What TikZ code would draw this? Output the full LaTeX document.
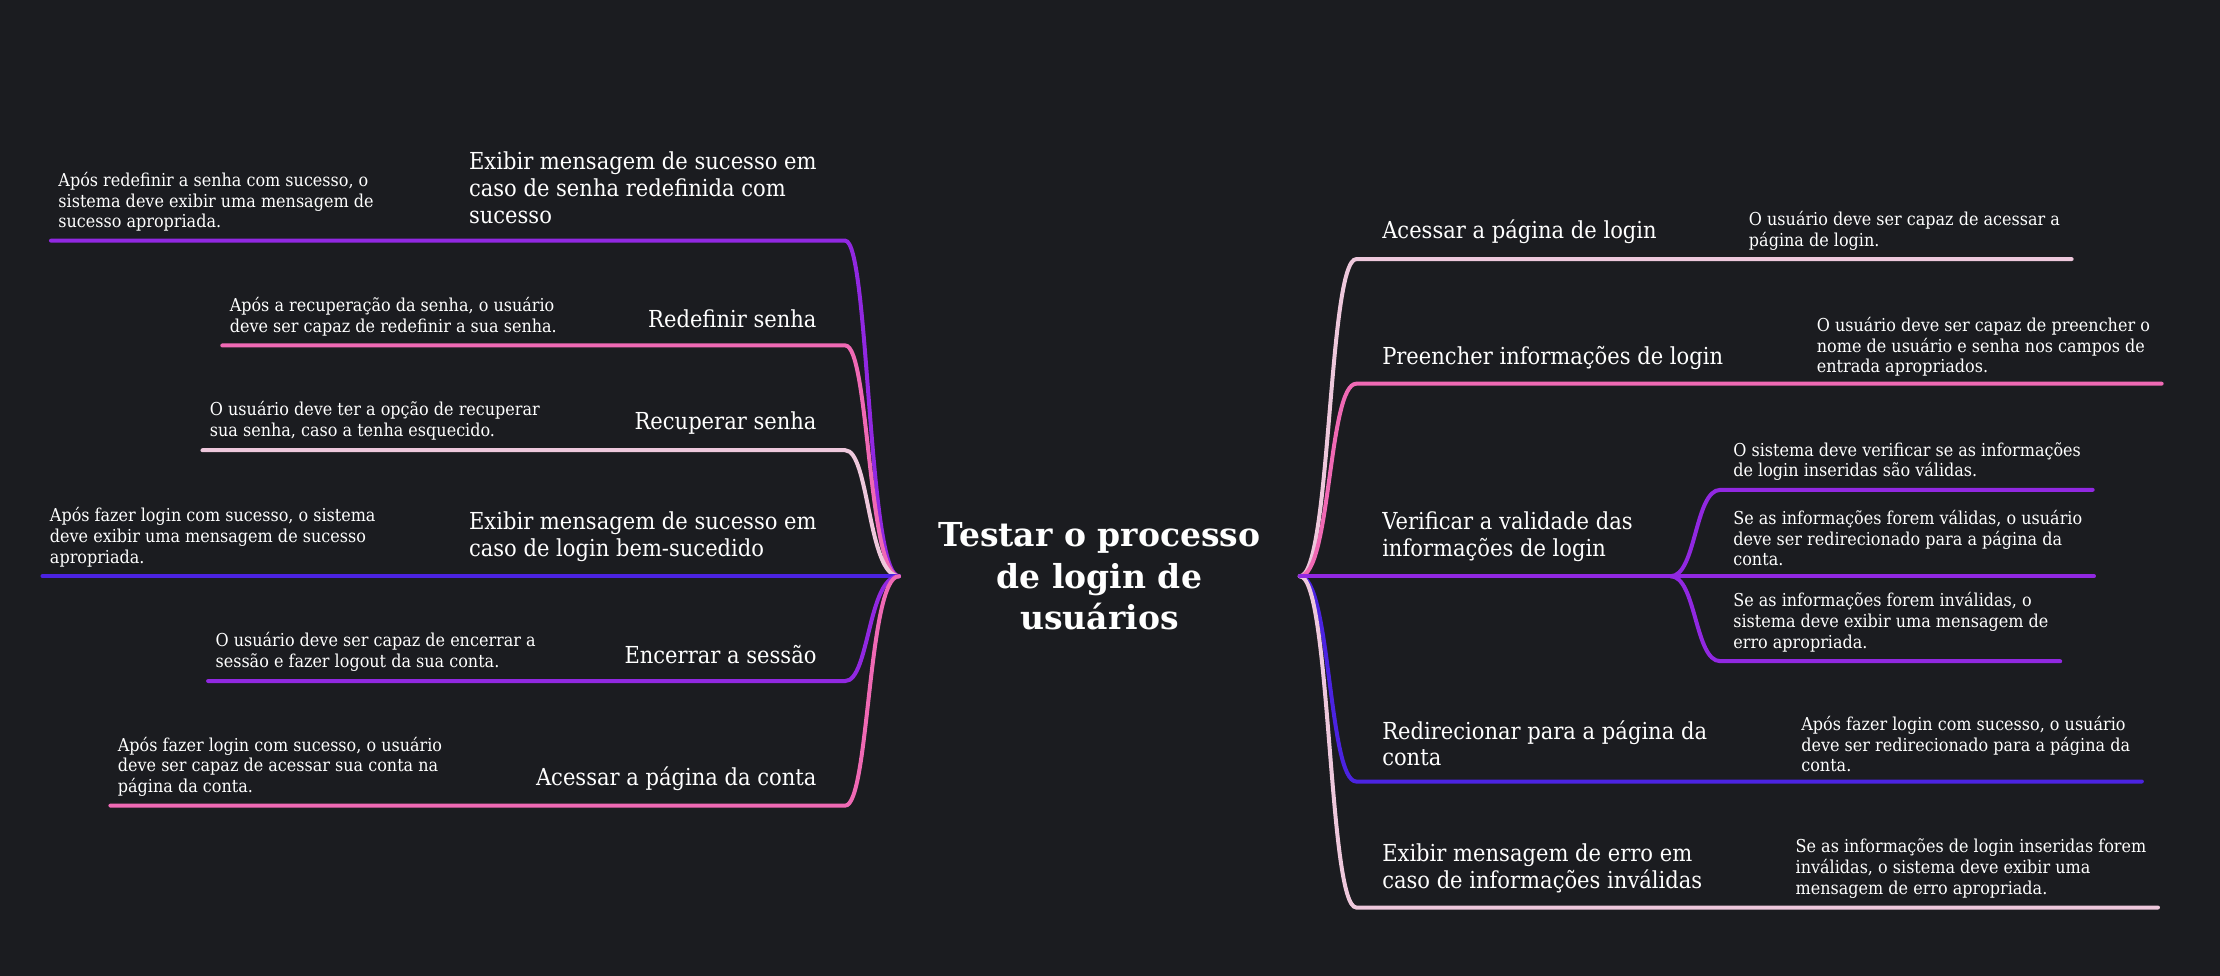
\documentclass[tikz,border=0pt]{standalone}
\usepackage{fontspec}
\setmainfont{DejaVu Serif}[FakeStretch=0.9]
\newfontfamily\headfont{DejaVu Serif}
\usetikzlibrary{calc}
\definecolor{canvas}{RGB}{27,28,32}
\definecolor{violetline}{RGB}{145,40,225}
\definecolor{pinkline}{RGB}{240,105,180}
\definecolor{blushline}{RGB}{238,200,220}
\definecolor{indigoline}{RGB}{75,35,225}
\newcommand{\rootfont}{\headfont\bfseries\fontsize{16.5}{20.9}\selectfont}
\newcommand{\topicfont}{\fontsize{11.7}{13.4}\selectfont}
\newcommand{\notefont}{\fontsize{8.9}{10.3}\selectfont}
\tikzset{
    root/.style={text=white,font=\rootfont,align=center,inner sep=0pt,minimum width=200pt},
    topic/.style={text=white,font=\topicfont,inner sep=0pt},
    note/.style={text=white,font=\notefont,align=left,inner sep=0pt},
    link/.style={line width=2pt,line cap=round},
}

\begin{document}
\begin{tikzpicture}[x=0.7079pt,y=-0.7079pt]

% Dark canvas
\fill[canvas] (0,0) rectangle (1568,689.3);
\useasboundingbox (0,0) rectangle (1568,689.3);

% Central topic
\node[root] (root) at (776.5,407) {Testar o processo\\de login de\\usuários};

% Left branches: topics
\node[topic,anchor=west,align=left] (t1) at (331,132.5)
    {Exibir mensagem de sucesso em\\caso de senha redefinida com\\sucesso};
\node[topic,anchor=east,align=right] (t2) at (577,225) {Redefinir senha};
\node[topic,anchor=east,align=right] (t3) at (577,299) {Recuperar senha};
\node[topic,anchor=west,align=left] (t4) at (331,379)
    {Exibir mensagem de sucesso em\\caso de login bem-sucedido};
\node[topic,anchor=east,align=right] (t5) at (577,462) {Encerrar a sessão};
\node[topic,anchor=east,align=right] (t6) at (577,550) {Acessar a página da conta};

% Left branches: notes
\node[note,anchor=west] (n1) at (41,142.5)
    {Após redefinir a senha com sucesso, o\\sistema deve exibir uma mensagem de\\sucesso apropriada.};
\node[note,anchor=west] (n2) at (162,223.5)
    {Após a recuperação da senha, o usuário\\deve ser capaz de redefinir a sua senha.};
\node[note,anchor=west] (n3) at (148,297)
    {O usuário deve ter a opção de recuperar\\sua senha, caso a tenha esquecido.};
\node[note,anchor=west] (n4) at (35,379.5)
    {Após fazer login com sucesso, o sistema\\deve exibir uma mensagem de sucesso\\apropriada.};
\node[note,anchor=west] (n5) at (152,460.5)
    {O usuário deve ser capaz de encerrar a\\sessão e fazer logout da sua conta.};
\node[note,anchor=west] (n6) at (83,541.5)
    {Após fazer login com sucesso, o usuário\\deve ser capaz de acessar sua conta na\\página da conta.};

% Right branches: topics
\node[topic,anchor=west] (r1) at (976,164) {Acessar a página de login};
\node[topic,anchor=west] (r2) at (976,253) {Preencher informações de login};
\node[topic,anchor=west,align=left] (r3) at (976,379)
    {Verificar a validade das\\informações de login};
\node[topic,anchor=west,align=left] (r4) at (976,525)
    {Redirecionar para a página da\\conta};
\node[topic,anchor=west,align=left] (r5) at (976,613.5)
    {Exibir mensagem de erro em\\caso de informações inválidas};

% Right branches: notes
\node[note,anchor=west] (m1) at (1235,163)
    {O usuário deve ser capaz de acessar a\\página de login.};
\node[note,anchor=west] (m2) at (1283,245)
    {O usuário deve ser capaz de preencher o\\nome de usuário e senha nos campos de\\entrada apropriados.};
\node[note,anchor=west] (m3a) at (1224,326)
    {O sistema deve verificar se as informações\\de login inseridas são válidas.};
\node[note,anchor=west] (m3b) at (1224,380)
    {Se as informações forem válidas, o usuário\\deve ser redirecionado para a página da\\conta.};
\node[note,anchor=west] (m3c) at (1224,439.5)
    {Se as informações forem inválidas, o\\sistema deve exibir uma mensagem de\\erro apropriada.};
\node[note,anchor=west] (m4) at (1272,525.5)
    {Após fazer login com sucesso, o usuário\\deve ser redirecionado para a página da\\conta.};
\node[note,anchor=west] (m5) at (1268,613.5)
    {Se as informações de login inseridas forem\\inválidas, o sistema deve exibir uma\\mensagem de erro apropriada.};

% Bend points
\coordinate (b1) at (597,170);
\coordinate (b2) at (597,244);
\coordinate (b3) at (597,318);
\coordinate (b4) at (597,407);
\coordinate (b5) at (597,481);
\coordinate (b6) at (597,569);
\coordinate (c1) at (958,183);
\coordinate (c2) at (958,271);
\coordinate (c4) at (958,552);
\coordinate (c5) at (958,641);
\coordinate (fork) at (1180,407);
\coordinate (c3a) at (1215,346);
\coordinate (c3c) at (1215,467);

% Left connectors
\draw[link,violetline] ($(n1.west |- b1)+(-5,0)$) -- (b1) .. controls +(17,0) and +(-22,0) .. (root.west);
\draw[link,pinkline] ($(n2.west |- b2)+(-5,0)$) -- (b2) .. controls +(17,0) and +(-22,0) .. (root.west);
\draw[link,blushline] ($(n3.west |- b3)+(-5,0)$) -- (b3) .. controls +(17,0) and +(-22,0) .. (root.west);
\draw[link,indigoline] ($(n4.west |- b4)+(-5,0)$) -- (root.west);
\draw[link,violetline] ($(n5.west |- b5)+(-5,0)$) -- (b5) .. controls +(17,0) and +(-22,0) .. (root.west);
\draw[link,pinkline] ($(n6.west |- b6)+(-5,0)$) -- (b6) .. controls +(17,0) and +(-22,0) .. (root.west);

% Right connectors
\draw[link,blushline] (root.east) .. controls +(22,0) and +(-20,0) .. (c1) -- ($(m1.east |- c1)+(8,0)$);
\draw[link,pinkline] (root.east) .. controls +(22,0) and +(-20,0) .. (c2) -- ($(m2.east |- c2)+(8,0)$);
\draw[link,indigoline] (root.east) .. controls +(22,0) and +(-20,0) .. (c4) -- ($(m4.east |- c4)+(8,0)$);
\draw[link,blushline] (root.east) .. controls +(22,0) and +(-20,0) .. (c5) -- ($(m5.east |- c5)+(8,0)$);
\draw[link,violetline] (root.east) -- (fork) -- ($(m3b.east |- fork)+(8,0)$);
\draw[link,violetline] (fork) .. controls +(18,0) and +(-18,0) .. (c3a) -- ($(m3a.east |- c3a)+(8,0)$);
\draw[link,violetline] (fork) .. controls +(18,0) and +(-18,0) .. (c3c) -- ($(m3c.east |- c3c)+(8,0)$);

\end{tikzpicture}
\end{document}
